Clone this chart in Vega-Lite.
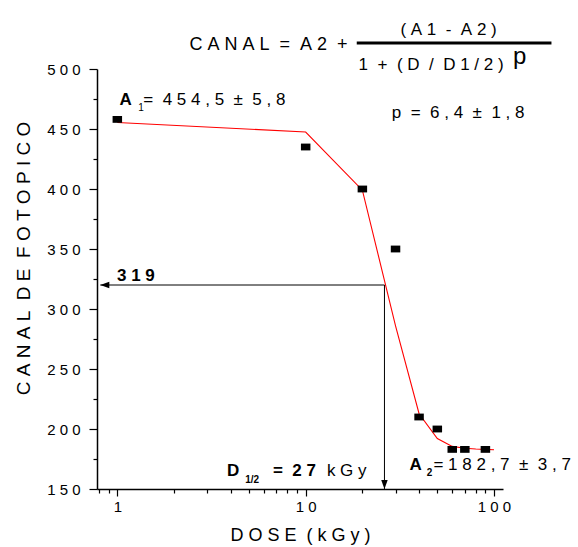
{
  "$schema": "https://vega.github.io/schema/vega-lite/v6.json",
  "autosize": {"type": "none"},
  "padding": {"left": 97, "top": 69, "right": 75, "bottom": 58},
  "width": 406,
  "height": 420,
  "config": {
    "view": {"stroke": null},
    "font": "Liberation Sans",
    "axis": {
      "domainColor": "#000000",
      "domainWidth": 1.5,
      "tickColor": "#000000",
      "tickWidth": 1.2,
      "labelColor": "#000000",
      "labelFont": "Liberation Sans",
      "labelFontSize": 15,
      "titleFont": "Liberation Sans",
      "titleFontSize": 18,
      "titleFontWeight": "normal",
      "titleColor": "#000000",
      "grid": false
    }
  },
  "datasets": {
    "pts": [
      {"dose": 1, "canal": 458},
      {"dose": 10, "canal": 435},
      {"dose": 20, "canal": 400},
      {"dose": 30, "canal": 350},
      {"dose": 40, "canal": 210},
      {"dose": 50, "canal": 200},
      {"dose": 60, "canal": 183},
      {"dose": 70, "canal": 183},
      {"dose": 90, "canal": 183}
    ],
    "fit": [
      {"dose": 1, "canal": 455.4},
      {"dose": 10, "canal": 447.5},
      {"dose": 20, "canal": 399},
      {"dose": 30, "canal": 286},
      {"dose": 40, "canal": 212.7},
      {"dose": 50, "canal": 192},
      {"dose": 60, "canal": 185.5},
      {"dose": 70, "canal": 184},
      {"dose": 80, "canal": 183.3},
      {"dose": 90, "canal": 183},
      {"dose": 100, "canal": 182.7}
    ],
    "guides": [
      {"x": 0.812, "x2": 26.2, "y": 320, "y2": 320},
      {"x": 26.2, "x2": 26.2, "y": 150, "y2": 320}
    ],
    "heads": [
      {"x": 0.812, "y": 320, "shape": "M0,0L2,-0.72L2,0.72Z"},
      {"x": 26.2, "y": 150, "shape": "M0,0L-0.72,-2L0.72,-2Z"}
    ],
    "bar": [
      {"x": 18.67, "x2": 201.8, "y": 521.6}
    ],
    "labels": [
      {"t": "A", "x": 1.028, "y": 469.7, "s": "b17", "a": "left"},
      {"t": "1", "x": 1.292, "y": 465.2, "s": "r10", "a": "left"},
      {"t": "=\u00a0\u00a04\u00a05\u00a04\u00a0,\u00a05\u00a0\u00a0±\u00a0\u00a05\u00a0,\u00a08", "x": 1.374, "y": 469.7, "s": "r17", "a": "left"},
      {"t": "p\u00a0\u00a0=\u00a0\u00a06\u00a0,\u00a04\u00a0\u00a0±\u00a0\u00a01\u00a0,\u00a08", "x": 28.66, "y": 459.2, "s": "r17", "a": "left"},
      {"t": "A", "x": 35.53, "y": 165.5, "s": "b17", "a": "left"},
      {"t": "2", "x": 43.95, "y": 160.5, "s": "b10", "a": "left"},
      {"t": "=\u00a01\u00a08\u00a02\u00a0,\u00a07\u00a0\u00a0±\u00a0\u00a03\u00a0,\u00a07", "x": 47.7, "y": 165.5, "s": "r17", "a": "left"},
      {"t": "D", "x": 3.819, "y": 160.5, "s": "b17", "a": "left"},
      {"t": "1/2", "x": 4.776, "y": 155, "s": "b10", "a": "left"},
      {"t": "=\u00a0\u00a02\u00a07", "x": 6.70, "y": 160.5, "s": "b17", "a": "left"},
      {"t": "k\u00a0G\u00a0y", "x": 12.96, "y": 160.5, "s": "r17", "a": "left"},
      {"t": "3\u00a01\u00a09", "x": 0.996, "y": 323.6, "s": "b17", "a": "left"},
      {"t": "C\u00a0A\u00a0N\u00a0A\u00a0L\u00a0\u00a0=\u00a0\u00a0A\u00a02\u00a0\u00a0+", "x": 16.68, "y": 515.75, "s": "r18", "a": "right"},
      {"t": "(\u00a0A\u00a01\u00a0\u00a0-\u00a0\u00a0A\u00a02\u00a0)", "x": 57.36, "y": 528.7, "s": "r17", "a": "center"},
      {"t": "1\u00a0\u00a0+\u00a0\u00a0(\u00a0D\u00a0\u00a0/\u00a0\u00a0D\u00a01\u00a0/\u00a02\u00a0)", "x": 19.1, "y": 499.5, "s": "r17", "a": "left"},
      {"t": "p", "x": 126.1, "y": 504.2, "s": "r24", "a": "left"}
    ]
  },
  "resolve": {"axis": {"x": "independent", "y": "independent"}},
  "layer": [
    {
      "data": {"name": "fit"},
      "mark": {"type": "line", "color": "#ff0000", "strokeWidth": 1.1},
      "encoding": {
        "x": {
          "field": "dose", "type": "quantitative",
          "scale": {"type": "log", "domain": [0.78, 111.6], "nice": false},
          "axis": {
            "orient": "bottom",
            "values": [0.8, 0.9, 2, 3, 4, 5, 6, 7, 8, 9, 20, 30, 40, 50, 60, 70, 80, 90],
            "tickSize": 4, "labels": false, "domain": false, "title": null
          }
        },
        "y": {
          "field": "canal", "type": "quantitative",
          "scale": {"domain": [150, 500], "nice": false, "zero": false},
          "axis": {
            "orient": "left",
            "values": [175, 225, 275, 325, 375, 425, 475],
            "tickSize": 4, "labels": false, "domain": false, "title": null
          }
        }
      }
    },
    {
      "data": {"name": "pts"},
      "mark": {"type": "point", "filled": true, "color": "#000000", "opacity": 1, "size": 90, "shape": "M-1,-0.72L1,-0.72L1,0.72L-1,0.72Z", "strokeWidth": 0},
      "encoding": {
        "x": {
          "field": "dose", "type": "quantitative",
          "scale": {"type": "log", "domain": [0.78, 111.6], "nice": false},
          "axis": {
            "orient": "bottom",
            "values": [1, 10, 100],
            "format": "d",
            "labelExpr": "join(split(datum.label, ''), '\u00a0')",
            "tickSize": 7,
            "labelPadding": 3,
            "title": "D\u00a0O\u00a0S\u00a0E\u00a0\u00a0(\u00a0k\u00a0G\u00a0y\u00a0)",
            "titlePadding": 12
          }
        },
        "y": {
          "field": "canal", "type": "quantitative",
          "scale": {"domain": [150, 500], "nice": false, "zero": false},
          "axis": {
            "orient": "left",
            "values": [150, 200, 250, 300, 350, 400, 450, 500],
            "format": "d",
            "labelExpr": "join(split(datum.label, ''), '\u00a0')",
            "tickSize": 8,
            "labelPadding": 9,
            "title": "C\u00a0A\u00a0N\u00a0A\u00a0L\u00a0\u00a0D\u00a0E\u00a0\u00a0F\u00a0O\u00a0T\u00a0O\u00a0P\u00a0I\u00a0C\u00a0O",
            "titleFontSize": 19,
            "titlePadding": 13,
            "titleY": 189
          }
        }
      }
    },
    {
      "data": {"name": "guides"},
      "mark": {"type": "rule", "color": "#000000", "strokeWidth": 1},
      "encoding": {
        "x": {"field": "x", "type": "quantitative", "scale": {"type": "log", "domain": [0.78, 111.6], "nice": false}, "axis": null},
        "x2": {"field": "x2"},
        "y": {"field": "y", "type": "quantitative", "scale": {"domain": [150, 500], "nice": false, "zero": false}, "axis": null},
        "y2": {"field": "y2"}
      }
    },
    {
      "data": {"name": "heads"},
      "mark": {"type": "point", "filled": true, "color": "#000000", "opacity": 1, "size": 81, "strokeWidth": 0},
      "encoding": {
        "x": {"field": "x", "type": "quantitative", "scale": {"type": "log", "domain": [0.78, 111.6], "nice": false}, "axis": null},
        "y": {"field": "y", "type": "quantitative", "scale": {"domain": [150, 500], "nice": false, "zero": false}, "axis": null},
        "shape": {"field": "shape", "type": "nominal", "scale": null, "legend": null}
      }
    },
    {
      "data": {"name": "bar"},
      "mark": {"type": "rule", "color": "#000000", "strokeWidth": 3},
      "encoding": {
        "x": {"field": "x", "type": "quantitative", "scale": {"type": "log", "domain": [0.78, 111.6], "nice": false}, "axis": null},
        "x2": {"field": "x2"},
        "y": {"field": "y", "type": "quantitative", "scale": {"domain": [150, 500], "nice": false, "zero": false}, "axis": null}
      }
    },
    {
      "data": {"name": "labels"},
      "transform": [{"filter": "datum.s == 'b17'"}],
      "mark": {"type": "text", "font": "Liberation Sans", "fontSize": 17, "fontWeight": "bold", "color": "#000000", "align": "left", "baseline": "alphabetic"},
      "encoding": {
        "x": {"field": "x", "type": "quantitative", "scale": {"type": "log", "domain": [0.78, 111.6], "nice": false}, "axis": null},
        "y": {"field": "y", "type": "quantitative", "scale": {"domain": [150, 500], "nice": false, "zero": false}, "axis": null},
        "text": {"field": "t"}
      }
    },
    {
      "data": {"name": "labels"},
      "transform": [{"filter": "datum.s == 'r17' && datum.a == 'left'"}],
      "mark": {"type": "text", "font": "Liberation Sans", "fontSize": 17, "color": "#000000", "align": "left", "baseline": "alphabetic"},
      "encoding": {
        "x": {"field": "x", "type": "quantitative", "scale": {"type": "log", "domain": [0.78, 111.6], "nice": false}, "axis": null},
        "y": {"field": "y", "type": "quantitative", "scale": {"domain": [150, 500], "nice": false, "zero": false}, "axis": null},
        "text": {"field": "t"}
      }
    },
    {
      "data": {"name": "labels"},
      "transform": [{"filter": "datum.s == 'r18'"}],
      "mark": {"type": "text", "font": "Liberation Sans", "fontSize": 18, "color": "#000000", "align": "right", "baseline": "alphabetic"},
      "encoding": {
        "x": {"field": "x", "type": "quantitative", "scale": {"type": "log", "domain": [0.78, 111.6], "nice": false}, "axis": null},
        "y": {"field": "y", "type": "quantitative", "scale": {"domain": [150, 500], "nice": false, "zero": false}, "axis": null},
        "text": {"field": "t"}
      }
    },
    {
      "data": {"name": "labels"},
      "transform": [{"filter": "datum.s == 'r17' && datum.a == 'center'"}],
      "mark": {"type": "text", "font": "Liberation Sans", "fontSize": 17, "color": "#000000", "align": "center", "baseline": "alphabetic"},
      "encoding": {
        "x": {"field": "x", "type": "quantitative", "scale": {"type": "log", "domain": [0.78, 111.6], "nice": false}, "axis": null},
        "y": {"field": "y", "type": "quantitative", "scale": {"domain": [150, 500], "nice": false, "zero": false}, "axis": null},
        "text": {"field": "t"}
      }
    },
    {
      "data": {"name": "labels"},
      "transform": [{"filter": "datum.s == 'b10'"}],
      "mark": {"type": "text", "font": "Liberation Sans", "fontSize": 10, "fontWeight": "bold", "color": "#000000", "align": "left", "baseline": "alphabetic"},
      "encoding": {
        "x": {"field": "x", "type": "quantitative", "scale": {"type": "log", "domain": [0.78, 111.6], "nice": false}, "axis": null},
        "y": {"field": "y", "type": "quantitative", "scale": {"domain": [150, 500], "nice": false, "zero": false}, "axis": null},
        "text": {"field": "t"}
      }
    },
    {
      "data": {"name": "labels"},
      "transform": [{"filter": "datum.s == 'r10'"}],
      "mark": {"type": "text", "font": "Liberation Sans", "fontSize": 10, "color": "#000000", "align": "left", "baseline": "alphabetic"},
      "encoding": {
        "x": {"field": "x", "type": "quantitative", "scale": {"type": "log", "domain": [0.78, 111.6], "nice": false}, "axis": null},
        "y": {"field": "y", "type": "quantitative", "scale": {"domain": [150, 500], "nice": false, "zero": false}, "axis": null},
        "text": {"field": "t"}
      }
    },
    {
      "data": {"name": "labels"},
      "transform": [{"filter": "datum.s == 'r24'"}],
      "mark": {"type": "text", "font": "Liberation Sans", "fontSize": 24, "color": "#000000", "align": "left", "baseline": "alphabetic"},
      "encoding": {
        "x": {"field": "x", "type": "quantitative", "scale": {"type": "log", "domain": [0.78, 111.6], "nice": false}, "axis": null},
        "y": {"field": "y", "type": "quantitative", "scale": {"domain": [150, 500], "nice": false, "zero": false}, "axis": null},
        "text": {"field": "t"}
      }
    }
  ]
}
